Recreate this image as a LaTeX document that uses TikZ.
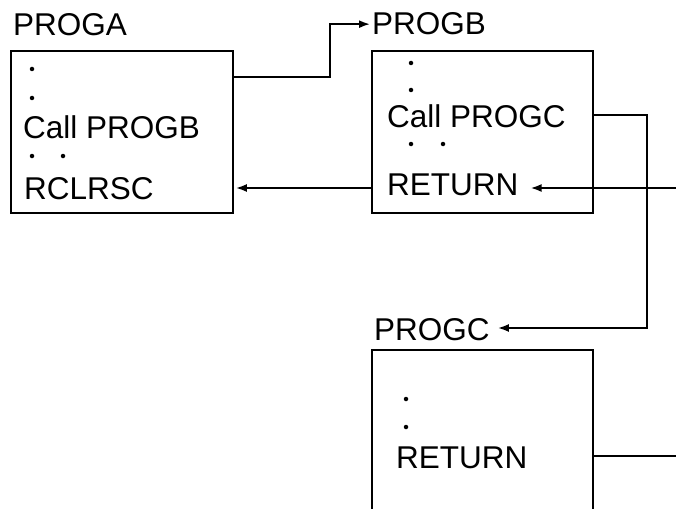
\documentclass[tikz,border=0pt]{standalone}
\usepackage{fontspec}
\setmainfont{Liberation Sans}
\usetikzlibrary{arrows.meta}
\begin{document}
\begin{tikzpicture}[x=1pt,y=-1pt,
  box/.style={draw,line width=1.8pt,rectangle,inner sep=0pt},
  txt/.style={anchor=base west,inner sep=0pt,font=\fontsize{31.5}{36}\selectfont},
  dot/.style={circle,fill,inner sep=0pt,minimum size=4.5pt},
  arr/.style={line width=1.8pt,-{Latex[length=11pt,width=8pt]}},
  ln/.style={line width=1.8pt}]
\useasboundingbox (0,0) rectangle (676,508);
\clip (0,0) rectangle (676,508);
% boxes
\node[box,minimum width=222pt,minimum height=162pt] (A) at (122,132) {};
\node[box,minimum width=221pt,minimum height=162pt] (B) at (482.5,132) {};
\node[box,minimum width=221pt,minimum height=180pt] (C) at (482.5,440) {};
% labels
\node[txt] (lA) at (13,36) {PROGA};
\node[txt] (lB) at (372,35) {PROGB};
\node[txt] (lC) at (374,340) {PROGC};
% box A content
\node[dot] (a1) at (32,69) {};
\node[dot] (a2) at (32,98) {};
\node[txt] (callB) at (23,138) {Call PROGB};
\node[dot] (a3) at (32,156) {};
\node[dot] (a4) at (63,156) {};
\node[txt] (rcl) at (24,199) {RCLRSC};
% box B content
\node[dot] (b1) at (411,63) {};
\node[dot] (b2) at (411,90) {};
\node[txt] (callC) at (387,127) {Call PROGC};
\node[dot] (b3) at (411,144) {};
\node[dot] (b4) at (443,144) {};
\node[txt] (retB) at (387,195) {RETURN};
% box C content
\node[dot] (c1) at (406,399) {};
\node[dot] (c2) at (406,427) {};
\node[txt] (retC) at (396,468) {RETURN};
% helper coordinates
\coordinate (k1) at (330,77);
\coordinate (k2) at (647,115);
\coordinate (k3) at (647,328);
\coordinate (r1) at (676,188);
\coordinate (r2) at (676,456);
% connectors
\draw[arr] (A.east |- k1) -| (k1 |- lB.west) -- ([xshift=-2pt]lB.west);
\draw[arr] (B.west |- r1) -- ([xshift=2pt]A.east |- r1);
\draw[arr] (B.east |- k2) -| (k3) -- ([xshift=8pt]lC.east |- k3);
\draw[arr] (r1) -- ([xshift=12pt]retB.east |- r1);
\draw[ln] (C.east |- r2) -- (r2);
\end{tikzpicture}
\end{document}
